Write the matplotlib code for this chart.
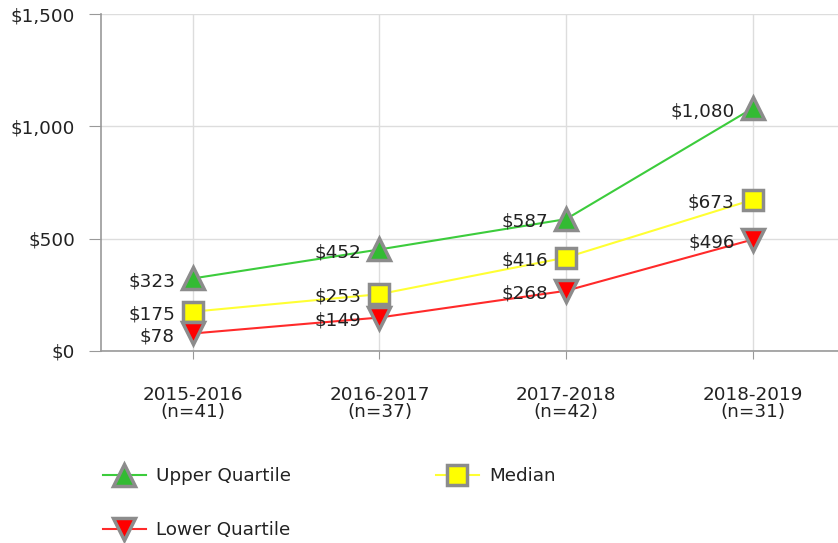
import matplotlib
matplotlib.use("Agg")
import matplotlib.pyplot as plt

categories = ["2015-2016\n(n=41)", "2016-2017\n(n=37)", "2017-2018\n(n=42)", "2018-2019\n(n=31)"]
upper = [323, 452, 587, 1080]
median = [175, 253, 416, 673]
lower = [78, 149, 268, 496]
yticks = [0, 500, 1000, 1500]
ytick_labels = ["$0", "$500", "$1,000", "$1,500"]

plt.rcParams['font.family'] = ['DejaVu Sans']
FS = 13.2

fig = plt.figure(figsize=(8.38, 5.43), dpi=100)
ax = fig.add_axes([101/838, 1-351/543, 1-101/838, (351-14)/543])

x = list(range(len(categories)))
edge = '#8c8c8c'
series = [
    ("Upper Quartile", upper, '#3ccc3c', '^', '#33bb33'),
    ("Median", median, '#ffff33', 's', '#ffff00'),
    ("Lower Quartile", lower, '#ff2a2a', 'v', '#ff0000'),
]
handles = []
for name, vals, lc, mk, fc in series:
    ms = 16 if mk != 's' else 14
    h, = ax.plot(x, vals, color=lc, lw=1.5, marker=mk, markersize=ms,
                 markerfacecolor=fc, markeredgecolor=edge, markeredgewidth=2.5,
                 label=name, zorder=3, clip_on=False)
    handles.append(h)
    for xi, v in zip(x, vals):
        ax.annotate(f"${v:,}", (xi, v), xytext=(-13, -2), textcoords='offset points',
                    ha='right', va='center', fontsize=FS, color='#222222', zorder=4)

ax.set_xlim(-0.493, 3.458)
ax.set_ylim(0, 1500)
ax.set_yticks(yticks)
ax.set_yticklabels(ytick_labels, fontsize=FS, color='#222222')
ax.set_xticks(x)
ax.set_xticklabels(categories, fontsize=FS, color='#222222', linespacing=0.95)
ax.grid(True, color='#dddddd', lw=1)
ax.set_axisbelow(True)
for s in ['top', 'right']:
    ax.spines[s].set_visible(False)
for s in ['left', 'bottom']:
    ax.spines[s].set_color('#999999')
    ax.spines[s].set_linewidth(1.2)
ax.tick_params(axis='y', length=8.5, color='#999999', pad=10)
ax.tick_params(axis='x', length=6, color='#999999', pad=19)

fig.legend(handles=[handles[0], handles[2], handles[1]], loc='upper left',
           bbox_to_anchor=(96/838, 1-460/543), ncol=2, frameon=False,
           fontsize=FS, handlelength=2.3, columnspacing=7.9, labelspacing=1.95,
           handletextpad=0.6, labelcolor='#222222', borderaxespad=0)

fig.savefig("out.png", dpi=100)
